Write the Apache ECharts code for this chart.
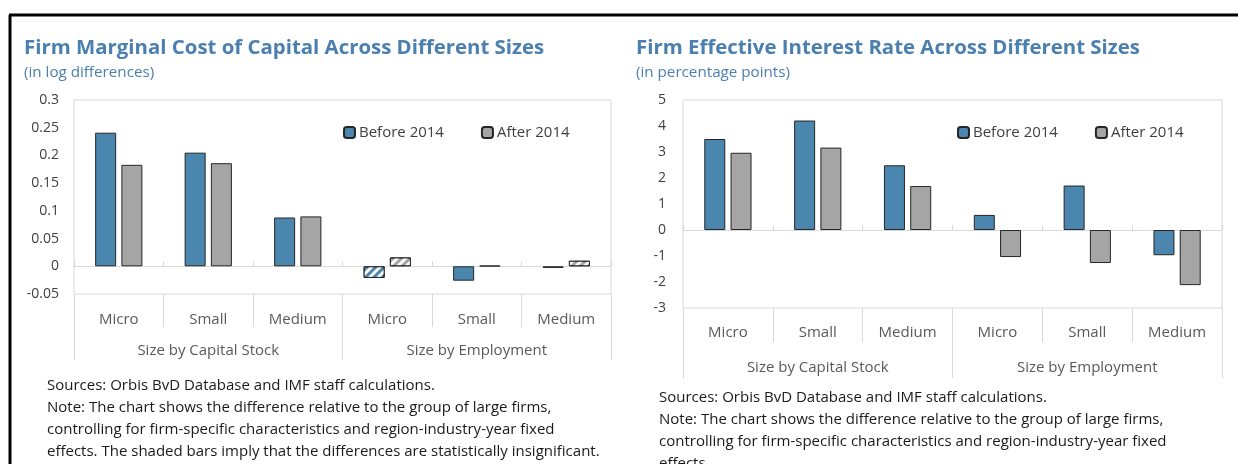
<!DOCTYPE html>
<html>
<head>
<meta charset="utf-8">
<script src="https://cdn.jsdelivr.net/npm/echarts@6/dist/echarts.min.js"></script>
<style>
  html, body { margin: 0; padding: 0; background: #fff; }
  #chart { width: 1238px; height: 464px; }
</style>
</head>
<body>
<div id="chart"></div>
<script>
// categories
var sizes = ['Micro', 'Small', 'Medium', 'Micro', 'Small', 'Medium'];
var groups = ['Size by Capital Stock', 'Size by Employment'];
var seriesNames = ['Before 2014', 'After 2014'];

// left chart: marginal cost of capital (log differences)
var costBefore = [0.241, 0.205, 0.088, -0.021, -0.026, -0.003];
var costAfter = [0.183, 0.186, 0.090, 0.016, 0.001, 0.010];
// shaded (insignificant) bars, by index
var costBeforeShaded = [3];
var costAfterShaded = [3, 5];

// right chart: effective interest rate (percentage points)
var rateBefore = [3.50, 4.21, 2.49, 0.58, 1.71, -0.97];
var rateAfter = [2.97, 3.17, 1.69, -1.04, -1.27, -2.12];

var blue = '#4a86ad';
var gray = '#a5a5a5';
var lineGray = '#d9d9d9';
var font = 'Open Sans';

var hatch = {
  symbol: 'rect',
  symbolSize: 1,
  dashArrayX: [1, 0],
  dashArrayY: [3, 3],
  rotation: -Math.PI / 4,
  color: 'rgba(255,255,255,0.95)'
};

function withShade(vals, shaded) {
  return vals.map(function (v, i) {
    if (shaded.indexOf(i) >= 0) return { value: v, itemStyle: { decal: hatch } };
    return v;
  });
}

// three x axes per grid: bars on zero line, size labels, group labels
function xAxes(gi, row, group, rowMargin, groupMargin) {
  return [
    {
      type: 'category', gridIndex: gi, data: sizes,
      axisLine: { show: true, onZero: true, lineStyle: { color: lineGray } },
      axisTick: { show: true, inside: true, length: 5, lineStyle: { color: lineGray } },
      axisLabel: { show: false }
    },
    {
      type: 'category', gridIndex: gi, data: sizes, position: 'bottom',
      axisLine: { show: false },
      axisTick: { show: true, length: row, lineStyle: { color: lineGray } },
      axisLabel: { margin: rowMargin, color: '#595959', fontSize: 15, fontFamily: font }
    },
    {
      type: 'category', gridIndex: gi, data: groups, position: 'bottom',
      axisLine: { show: false },
      axisTick: { show: true, length: group, lineStyle: { color: lineGray } },
      axisLabel: { margin: groupMargin, color: '#595959', fontSize: 15, fontFamily: font }
    }
  ];
}

function bars(gi, name, color, data) {
  return {
    type: 'bar', name: name, xAxisIndex: gi * 3, yAxisIndex: gi,
    data: data, barWidth: 21, barGap: '25%',
    itemStyle: { color: color, borderColor: '#262626', borderWidth: 1 },
    animation: false
  };
}

function legend(left) {
  return {
    left: left, top: 125, padding: 0, itemWidth: 11, itemHeight: 11, itemGap: 37,
    data: seriesNames,
    textStyle: { fontSize: 15, color: '#404040', fontFamily: font, padding: [0, 0, 0, -1] }
  };
}

var titleStyle = { fontSize: 20.4, fontWeight: 'bold', color: '#4a7fb0', fontFamily: font };
var subStyle = { fontSize: 15.2, fontWeight: 'normal', color: '#4a7fb0', fontFamily: font };
var noteStyle = { fontSize: 15, fill: '#1a1a1a', fontFamily: font, lineHeight: 22 };

var notesLeft = 'Sources: Orbis BvD Database and IMF staff calculations.\n' +
  'Note: The chart shows the difference relative to the group of large firms,\n' +
  'controlling for firm-specific characteristics and region-industry-year fixed\n' +
  'effects. The shaded bars imply that the differences are statistically insignificant.';
var notesRight = 'Sources: Orbis BvD Database and IMF staff calculations.\n' +
  'Note: The chart shows the difference relative to the group of large firms,\n' +
  'controlling for firm-specific characteristics and region-industry-year fixed\n' +
  'effects.';

var chart = echarts.init(document.getElementById('chart'));
var option = {
  backgroundColor: '#fff',
  animation: false,
  title: [
    { text: 'Firm Marginal Cost of Capital Across Different Sizes', left: 19, top: 33, textStyle: titleStyle },
    { text: '(in log differences)', left: 19, top: 60, textStyle: subStyle },
    { text: 'Firm Effective Interest Rate Across Different Sizes', left: 631, top: 33, textStyle: titleStyle },
    { text: '(in percentage points)', left: 631, top: 60, textStyle: subStyle }
  ],
  legend: [legend(343), legend(957)],
  grid: [
    { left: 74, top: 100, width: 537, height: 194, show: true, borderColor: lineGray, borderWidth: 1 },
    { left: 683, top: 100, width: 539, height: 208, show: true, borderColor: lineGray, borderWidth: 1 }
  ],
  xAxis: xAxes(0, 33, 66, 18, 49).concat(xAxes(1, 34, 70, 17, 52)),
  yAxis: [
    {
      type: 'value', gridIndex: 0, min: -0.05, max: 0.3, interval: 0.05,
      axisLine: { show: false }, axisTick: { show: false }, splitLine: { show: false },
      axisLabel: { margin: 15, color: '#404040', fontSize: 14, fontFamily: font }
    },
    {
      type: 'value', gridIndex: 1, min: -3, max: 5, interval: 1,
      axisLine: { show: false }, axisTick: { show: false }, splitLine: { show: false },
      axisLabel: { margin: 17, color: '#404040', fontSize: 14, fontFamily: font }
    }
  ],
  series: [
    bars(0, seriesNames[0], blue, withShade(costBefore, costBeforeShaded)),
    bars(0, seriesNames[1], gray, withShade(costAfter, costAfterShaded)),
    bars(1, seriesNames[0], blue, rateBefore),
    bars(1, seriesNames[1], gray, rateAfter)
  ],
  graphic: [
    { type: 'line', shape: { x1: 9, y1: 15, x2: 1238, y2: 15 }, style: { stroke: '#000', lineWidth: 3 } },
    { type: 'line', shape: { x1: 10, y1: 15, x2: 10, y2: 464 }, style: { stroke: '#000', lineWidth: 3 } },
    { type: 'text', left: 47, top: 375, style: Object.assign({ text: notesLeft }, noteStyle) },
    { type: 'text', left: 659, top: 387, style: Object.assign({ text: notesRight }, noteStyle) }
  ]
};
chart.setOption(option);
</script>
</body>
</html>
